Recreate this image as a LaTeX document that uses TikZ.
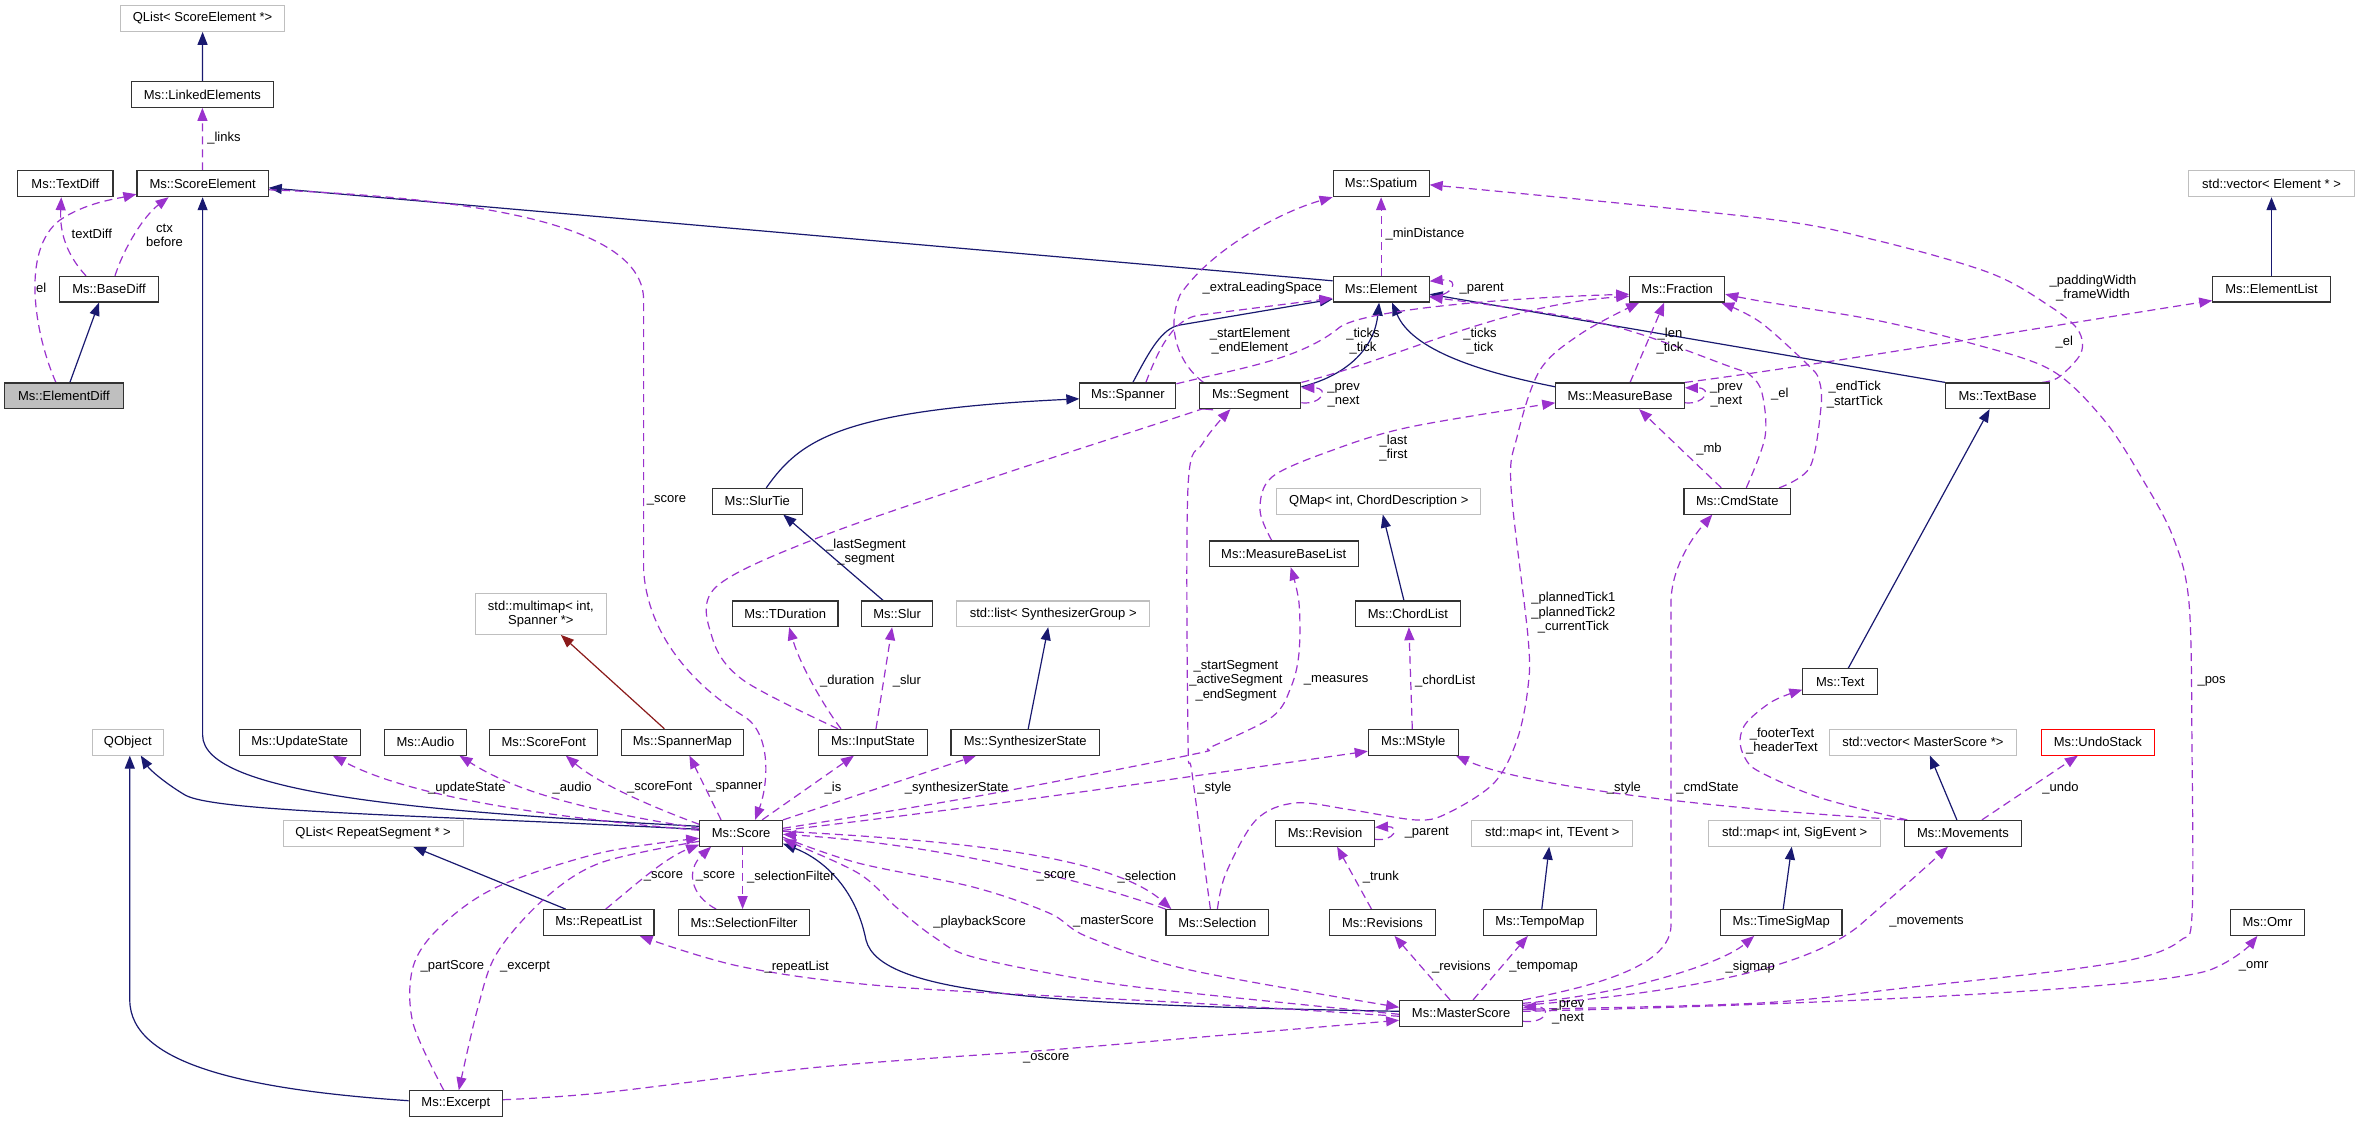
\documentclass[tikz,border=0pt]{standalone}
\usepackage{fontspec}
\setmainfont{Liberation Sans}
\usetikzlibrary{arrows.meta,backgrounds}
\newcommand\dxfont{\fontsize{13}{14.5}\selectfont}
\definecolor{nv}{HTML}{191970}
\definecolor{pu}{HTML}{9A32CD}
\definecolor{fb}{HTML}{8B1A1A}
\definecolor{gr}{HTML}{BFBFBF}
\definecolor{bdc}{HTML}{333333}
\definecolor{edfill}{HTML}{BFBFBF}
\tikzset{
  clsbox/.style={draw=bdc, line width=1.1pt, minimum height=25.7pt, inner sep=0pt, font=\dxfont, fill=white},
  extbox/.style={clsbox, draw=gr},
  inhline/.style={draw=nv, line width=1.2pt, -{Triangle[length=13pt,width=10pt]}},
  tplline/.style={draw=fb, line width=1.2pt, -{Triangle[length=13pt,width=10pt]}},
  depline/.style={draw=pu, line width=1.2pt, dash pattern=on 8pt off 5pt, -{Triangle[length=13pt,width=10pt]}},
  elabel/.style={font=\dxfont, inner sep=0pt, align=center}
}
\begin{document}
\begin{tikzpicture}[x=1pt,y=-1pt]
\useasboundingbox (0,0) rectangle (2359,1123);
% nodes
\node[extbox, minimum width=164.2] (qlse) at (202.6,18.5) {QList< ScoreElement *>};
\node[clsbox, minimum width=141.6] (le) at (202.4,94.5) {Ms::LinkedElements};
\node[clsbox, minimum width=95.3] (td) at (65.3,183.8) {Ms::TextDiff};
\node[clsbox, minimum width=131.3] (se) at (202.6,183.8) {Ms::ScoreElement};
\node[clsbox, minimum width=96] (spat) at (1381.1,183.8) {Ms::Spatium};
\node[extbox, minimum width=165.7] (vel) at (2271.5,183.8) {std::vector< Element * >};
\node[clsbox, minimum width=98.7] (bd) at (109,289.2) {Ms::BaseDiff};
\node[clsbox, minimum width=96] (elem) at (1381.1,289.2) {Ms::Element};
\node[clsbox, minimum width=94.9] (frac) at (1677.2,289.2) {Ms::Fraction};
\node[clsbox, minimum width=117.5] (elist) at (2271.5,289.2) {Ms::ElementList};
\node[clsbox, fill=edfill, minimum width=118.6] (ed) at (63.9,395.8) {Ms::ElementDiff};
\node[clsbox, minimum width=96] (span) at (1127.9,395.8) {Ms::Spanner};
\node[clsbox, minimum width=101] (seg) at (1250.4,395.8) {Ms::Segment};
\node[clsbox, minimum width=128.6] (mb) at (1620.1,395.8) {Ms::MeasureBase};
\node[clsbox, minimum width=104.1] (tb) at (1997.6,395.8) {Ms::TextBase};
\node[clsbox, minimum width=89.5] (st) at (757.3,501.2) {Ms::SlurTie};
\node[extbox, minimum width=204] (qm) at (1378.8,501.2) {QMap< int, ChordDescription >};
\node[clsbox, minimum width=106.6] (cmd) at (1737.3,501.2) {Ms::CmdState};
\node[clsbox, minimum width=149.2] (mbl) at (1283.7,553.8) {Ms::MeasureBaseList};
\node[extbox, minimum width=131, minimum height=40.7, align=center] (mm) at (540.9,614) {std::multimap< int,\\Spanner *>};
\node[clsbox, minimum width=105.6] (tdu) at (785.2,613.8) {Ms::TDuration};
\node[clsbox, minimum width=70.8] (slur) at (897.1,613.8) {Ms::Slur};
\node[extbox, minimum width=193.3] (lsg) at (1053.2,613.8) {std::list< SynthesizerGroup >};
\node[clsbox, minimum width=104.5] (cl) at (1407.9,613.8) {Ms::ChordList};
\node[clsbox, minimum width=74.6] (txt) at (1840.2,681.7) {Ms::Text};
\node[extbox, minimum width=71.2] (qo) at (127.8,742.2) {QObject};
\node[clsbox, minimum width=121.3] (ups) at (299.8,742.2) {Ms::UpdateState};
\node[clsbox, minimum width=81.5] (aud) at (425.4,742.2) {Ms::Audio};
\node[clsbox, minimum width=107.9] (sfont) at (543.8,742.2) {Ms::ScoreFont};
\node[clsbox, minimum width=121.3] (spm) at (682.4,742.2) {Ms::SpannerMap};
\node[clsbox, minimum width=108.3] (ins) at (873,742.2) {Ms::InputState};
\node[clsbox, minimum width=148.5] (ss) at (1025.2,742.2) {Ms::SynthesizerState};
\node[clsbox, minimum width=90] (mst) at (1413.3,742.2) {Ms::MStyle};
\node[extbox, minimum width=187.1] (vms) at (1922.9,742.2) {std::vector< MasterScore *>};
\node[clsbox, draw=red, minimum width=113.3] (us) at (2097.9,742.2) {Ms::UndoStack};
\node[extbox, minimum width=179.9] (qlr) at (373.1,833.3) {QList< RepeatSegment * >};
\node[clsbox, minimum width=82.7] (score) at (741.1,833.3) {Ms::Score};
\node[clsbox, minimum width=98.7] (rev) at (1325.1,833.3) {Ms::Revision};
\node[extbox, minimum width=161.1] (mte) at (1552.2,833.3) {std::map< int, TEvent >};
\node[extbox, minimum width=172.4] (mse) at (1794.7,833.3) {std::map< int, SigEvent >};
\node[clsbox, minimum width=116.3] (mov) at (1962.9,833.3) {Ms::Movements};
\node[clsbox, minimum width=110.5] (rl) at (598.7,922.5) {Ms::RepeatList};
\node[clsbox, minimum width=130.5] (sf) at (744.1,922.5) {Ms::SelectionFilter};
\node[clsbox, minimum width=102.8] (sel) at (1217.4,922.5) {Ms::Selection};
\node[clsbox, minimum width=106.4] (revs) at (1382.5,922.5) {Ms::Revisions};
\node[clsbox, minimum width=113.3] (tm) at (1539.8,922.5) {Ms::TempoMap};
\node[clsbox, minimum width=121.5] (tsm) at (1781.2,922.5) {Ms::TimeSigMap};
\node[clsbox, minimum width=73.5] (omr) at (2267.4,922.5) {Ms::Omr};
\node[clsbox, minimum width=122.8] (ms) at (1461.1,1013.3) {Ms::MasterScore};
\node[clsbox, minimum width=93.4] (exc) at (455.8,1103.7) {Ms::Excerpt};

\begin{pgfonlayer}{background}
\fill[white] (0,0) rectangle (2359,1123);
% inheritance
\draw[inhline] (le.north) -- (qlse.south);
\draw[inhline] (elist.north) -- (vel.south);
\draw[inhline] ([xshift=6]ed.north) -- ([xshift=-10]bd.south);
\draw[inhline] ([yshift=-5]elem.north west) -- ([yshift=-4]se.east);
\draw[inhline] ([yshift=7]score.west) .. controls (430,812) and (202.6,795) .. (202.6,735) -- (se.south);
\draw[inhline] ([yshift=4]score.west) .. controls (420,815) and (215,812) .. (185,795) .. controls (165,783) and (150,770) .. ([xshift=13]qo.south);
\draw[inhline] ([yshift=3]exc.west) .. controls (250,1090) and (129.8,1065) .. (129.8,1000) -- ([xshift=2]qo.south);
\draw[inhline] ([xshift=5]span.north) .. controls (1150,350) and (1162,328) .. (1180,325) -- ([yshift=-10]elem.west);
\draw[inhline] ([yshift=9]seg.east) .. controls (1345,376) and (1374,350) .. ([xshift=-2]elem.south);
\draw[inhline] ([yshift=9]mb.west) .. controls (1480,372) and (1412,350) .. ([xshift=11]elem.south);
\draw[inhline] (tb.north west) -- ([yshift=-5]elem.east);
\draw[inhline] ([xshift=9]st.north) .. controls (800,440) and (840,410) .. ([yshift=-3]span.west);
\draw[inhline] ([xshift=-14]slur.north) -- ([xshift=26]st.south);
\draw[tplline] ([xshift=-18]spm.north) -- ([xshift=20]mm.south);
\draw[inhline] ([xshift=3]ss.north) -- ([xshift=-5]lsg.south);
\draw[inhline] ([xshift=-4]cl.north) -- ([xshift=4]qm.south);
\draw[inhline] ([xshift=8]txt.north) -- ([xshift=-8]tb.south);
\draw[inhline] ([xshift=-6]mov.north) -- ([xshift=7]vms.south);
\draw[inhline] ([xshift=2]tsm.north) -- ([xshift=-3]mse.south);
\draw[inhline] ([xshift=2]tm.north) -- ([xshift=-3]mte.south);
\draw[inhline] ([xshift=-33]rl.north) -- ([xshift=40]qlr.south);
\draw[inhline] ([yshift=2]ms.west) .. controls (1050,1005) and (880,995) .. (866,940) .. controls (855,885) and (820,858) .. ([yshift=3]score.south east);
% dependencies
\draw[depline] (se.north) -- (le.south);
\draw[depline] ([xshift=-23]bd.north) .. controls (62,250) and (60,225) .. ([xshift=-4]td.south);
\draw[depline] ([xshift=6]bd.north) .. controls (125,245) and (145,215) .. ([xshift=-34]se.south);
\draw[depline] ([xshift=-8]ed.north) .. controls (35,335) and (20,250) .. (60,220) .. controls (85,203) and (115,199) .. ([yshift=3]se.south west);
\draw[depline] ([yshift=-6]se.east) .. controls (480,198) and (643.6,225) .. (643.6,300) -- (643.6,570) .. controls (648,640) and (700,690) .. (745,717) .. controls (772,735) and (768,785) .. ([xshift=14]score.north);
\draw[depline] ([xshift=-47]seg.north) .. controls (1180,365) and (1165,330) .. (1180,295) .. controls (1210,250) and (1280,212) .. (spat.south west);
\draw[depline] (elem.north) -- (spat.south);
\draw[depline] ([yshift=-7]elem.east) .. controls (1452,298) and (1462,278) .. ([yshift=8]elem.east);
\draw[depline] ([xshift=18]span.north) .. controls (1160,345) and (1175,318) .. (1200,315) -- ([yshift=-9]elem.west);
\draw[depline] ([yshift=12]span.east) .. controls (1240,368) and (1300,360) .. (1340,327) .. controls (1365,310) and (1500,298) .. ([yshift=-5]frac.west);
\draw[depline] (seg.north east) .. controls (1400,358) and (1500,305) .. ([yshift=-7]frac.west);
\draw[depline] ([xshift=10]mb.north) -- ([xshift=-13]frac.south);
\draw[depline] plot[smooth,tension=0.55] coordinates {(sel.north) (1226,873) (1256,820) (1295,803) (1352,810) (1417,820) (1448,813) (1494,783) (1517,740) (1528,687) (1528,637) (1511,487) (1517,437) (1540,370) (1582,333) ([xshift=-38]frac.south)};
\draw[depline] plot[smooth,tension=0.55] coordinates {([xshift=-12]cmd.north east) (1810,467) (1821,407) (1819,380) (1808,365) (1760,322) ([xshift=-4]frac.south east)};
\draw[depline] plot[smooth,tension=0.55] coordinates {([yshift=4]ms.east) (1760,1003) (1913,987) (2066,970) (2143,957) (2181,940) (2192,915) (2192,750) (2189,603) (2173,537) (2143,480) (2104,420) (2051,370) (1970,343) (1875,320) (1760,301) ([yshift=-5]frac.east)};
\draw[depline] plot[smooth,tension=0.55] coordinates {([xshift=-8]tb.north east) (2059,377) (2081,353) (2078,330) (2051,307) (1990,273) (1875,240) (1760,218) ([yshift=-1]spat.east)};
\draw[depline] (mb.north east) .. controls (1800,368) and (2100,318) .. ([yshift=2]elist.south west);
\draw[depline] plot[smooth,tension=0.55] coordinates {([xshift=9]cmd.north) (1765,437) (1762,393) (1750,375) (1731,367) (1601,323) ([yshift=-8]elem.east)};
\draw[depline] ([yshift=-7]seg.east) .. controls (1322,405) and (1330,388) .. ([yshift=8]seg.east);
\draw[depline] ([yshift=-7]mb.east) .. controls (1705,405) and (1713,388) .. ([yshift=8]mb.east);
\draw[depline] ([xshift=-16]cmd.north) -- ([xshift=19]mb.south);
\draw[depline] plot[smooth,tension=0.55] coordinates {([xshift=-12]mbl.north) (1260,510) (1272,477) (1333,450) (1410,427) ([yshift=-7]mb.west)};
\draw[depline] plot[smooth,tension=0.55] coordinates {([yshift=5]score.east) (973,797) (1190,755) (1211,747) (1272,717) (1291,687) (1299,653) (1299,603) ([xshift=7]mbl.south)};
\draw[depline] ([yshift=3]score.east) .. controls (1000,805) and (1200,775) .. ([yshift=-9]mst.west);
\draw[depline] ([xshift=1]mov.north west) .. controls (1700,808) and (1520,785) .. ([xshift=-3]mst.south east);
\draw[depline] plot[smooth,tension=0.55] coordinates {([xshift=3]mov.north west) (1821,798) (1760,772) (1745,758) (1740,740) (1747,722) (1773,701) ([yshift=-8]txt.west)};
\draw[depline] ([xshift=19]mov.north) -- ([xshift=-20]us.south);
\draw[depline] ([yshift=8]ms.east) .. controls (1650,995) and (1800,975) .. (1860,925) .. controls (1900,890) and (1925,868) .. ([xshift=-15]mov.south);
\draw[depline] ([yshift=10]ms.east) .. controls (1620,995) and (1720,965) .. ([xshift=-27]tsm.south);
\draw[depline] (ms.north east) .. controls (1600,985) and (1671,965) .. (1671,925) -- (1671,603) .. controls (1671,570) and (1690,540) .. ([xshift=-25]cmd.south);
\draw[depline] ([yshift=2]ms.east) .. controls (1800,1005) and (2150,990) .. (2210,970) .. controls (2235,960) and (2250,945) .. ([xshift=-10]omr.south);
\draw[depline] ([yshift=-8]ms.east) .. controls (1548,1024) and (1552,1006) .. ([yshift=6]ms.east);
\draw[depline] ([xshift=12]ms.north) -- ([xshift=-12]tm.south);
\draw[depline] ([xshift=-11]ms.north) -- ([xshift=12]revs.south);
\draw[depline] ([yshift=-6]rev.east) .. controls (1395,842) and (1400,826) .. ([yshift=6]rev.east);
\draw[depline] ([xshift=-11]revs.north) -- ([xshift=12]rev.south);
\draw[depline] ([yshift=2]score.east) .. controls (950,840) and (1110,855) .. ([xshift=-46]sel.north);
\draw[depline] (sel.north west) .. controls (1100,885) and (950,845) .. ([yshift=-1]score.east);
\draw[depline] plot[smooth,tension=0.55] coordinates {([yshift=-4]score.east) (858,863) (973,887) (1049,913) (1088,937) (1190,970) ([yshift=6]ms.west)};
\draw[depline] plot[smooth,tension=0.55] coordinates {([yshift=-1]ms.west) (1190,993) (1088,980) (973,957) (934,937) (896,907) (858,873) ([yshift=-6]score.east)};
\draw[depline] plot[smooth,tension=0.55] coordinates {([yshift=-3]ms.west) (1190,1003) (896,987) (743,967) ([xshift=41]rl.south)};
\draw[depline] ([xshift=7]rl.north) .. controls (635,885) and (665,858) .. ([yshift=2]score.south west);
\draw[depline] ([xshift=-28]sf.north) .. controls (690,895) and (686,870) .. ([xshift=-30]score.south);
\draw[depline] ([xshift=1.5]score.south) -- ([xshift=-1.5]sf.north);
\draw[depline] ([yshift=3]score.west) .. controls (520,815) and (400,792) .. ([xshift=33]ups.south);
\draw[depline] ([yshift=5]score.west) .. controls (570,808) and (510,788) .. ([xshift=34]aud.south);
\draw[depline] ([yshift=9]score.west) .. controls (660,810) and (600,785) .. ([xshift=22]sfont.south);
\draw[depline] ([xshift=-20]score.north) -- ([xshift=7]spm.south);
\draw[depline] ([xshift=21]score.north) -- ([xshift=-19]ins.south);
\draw[depline] (score.north east) -- ([xshift=-49]ss.south);
\draw[depline] ([xshift=-32]ins.north) .. controls (825,708) and (800,665) .. ([xshift=4]tdu.south);
\draw[depline] ([xshift=3]ins.north) -- ([xshift=-5]slur.south);
\draw[depline] ([xshift=-1]mst.north) -- ([xshift=1]cl.south);
\draw[depline] plot[smooth,tension=0.55] coordinates {([xshift=-35]ins.north) (743,680) (712,637) (716,587) (820,537) (1000,475) (1190,413) (seg.south west)};
\draw[depline] plot[smooth,tension=0.55] coordinates {([xshift=-7]sel.north) (1192,773) (1188,740) (1188,487) (1203,443) ([xshift=-20]seg.south)};
\draw[depline] plot[smooth,tension=0.55] coordinates {([xshift=-12]exc.north) (413,1023) (413,967) (440,927) (497,887) (600,853) ([yshift=-5]score.west)};
\draw[depline] plot[smooth,tension=0.55] coordinates {([yshift=-8]score.west) (600,863) (543,900) (497,953) (478,1007) ([xshift=3]exc.north)};
\draw[depline] plot[smooth,tension=0.55] coordinates {([yshift=4]exc.east) (600,1093) (820,1067) (1049,1050) (1190,1038) ([yshift=-7]ms.west)};
\end{pgfonlayer}

% labels
\node[elabel] (l1) at (223.9,138.3) {\_links};
\node[elabel] (l2) at (91.8,234.3) {textDiff};
\node[elabel] (l3) at (164.5,235.3) {ctx\\before};
\node[elabel] (l4) at (41.3,288.3) {el};
\node[elabel] (l5) at (1424.9,234.3) {\_minDistance};
\node[elabel] (l6) at (1262.3,288.3) {\_extraLeadingSpace};
\node[elabel] (l7) at (1481.6,288.3) {\_parent};
\node[elabel] (l8) at (1250,341.3) {\_startElement\\\_endElement};
\node[elabel] (l9) at (1363,341.3) {\_ticks\\\_tick};
\node[elabel] (l10) at (1480,341.3) {\_ticks\\\_tick};
\node[elabel] (l11) at (1670,341.3) {\_len\\\_tick};
\node[elabel] (l12) at (2093,288) {\_paddingWidth\\\_frameWidth};
\node[elabel] (l13) at (2064.2,341.7) {\_el};
\node[elabel] (l14) at (1343.6,395.2) {\_prev\\\_next};
\node[elabel] (l15) at (1726.4,395.2) {\_prev\\\_next};
\node[elabel] (l16) at (1779.9,394.3) {\_el};
\node[elabel] (l17) at (1854.8,394.8) {\_endTick\\\_startTick};
\node[elabel] (l18) at (1393.4,448) {\_last\\\_first};
\node[elabel] (l19) at (1708.9,449) {\_mb};
\node[elabel] (l20) at (666.5,500.7) {\_score};
\node[elabel] (l21) at (866,552) {\_lastSegment\\\_segment};
\node[elabel] (l22) at (1573.4,613) {\_plannedTick1\\\_plannedTick2\\\_currentTick};
\node[elabel] (l23) at (1236,680.8) {\_startSegment\\\_activeSegment\\\_endSegment};
\node[elabel] (l24) at (1336.1,680.7) {\_measures};
\node[elabel] (l25) at (1445.2,680.7) {\_chordList};
\node[elabel] (l26) at (847.2,680.7) {\_duration};
\node[elabel] (l27) at (906.9,680.7) {\_slur};
\node[elabel] (l28) at (2211.6,681) {\_pos};
\node[elabel] (l29) at (1782,741) {\_footerText\\\_headerText};
\node[elabel] (l30) at (466.9,787.7) {\_updateState};
\node[elabel] (l31) at (572.1,787.7) {\_audio};
\node[elabel] (l32) at (659.7,787.7) {\_scoreFont};
\node[elabel] (l33) at (735.4,787.7) {\_spanner};
\node[elabel] (l34) at (833,787.7) {\_is};
\node[elabel] (l35) at (956.6,787.7) {\_synthesizerState};
\node[elabel] (l36) at (1214.4,787.7) {\_style};
\node[elabel] (l37) at (1623.9,787.7) {\_style};
\node[elabel] (l38) at (1707.4,787.7) {\_cmdState};
\node[elabel] (l39) at (2060.4,787.7) {\_undo};
\node[elabel] (l40) at (1426.8,832.7) {\_parent};
\node[elabel] (l41) at (663.5,876.7) {\_score};
\node[elabel] (l42) at (715.5,876.7) {\_score};
\node[elabel] (l43) at (790.9,876.7) {\_selectionFilter};
\node[elabel] (l44) at (1056.1,876.7) {\_score};
\node[elabel] (l45) at (1146.8,876.7) {\_selection};
\node[elabel] (l46) at (1380.9,876.7) {\_trunk};
\node[elabel] (l47) at (979.6,921.7) {\_playbackScore};
\node[elabel] (l48) at (1113.5,921.7) {\_masterScore};
\node[elabel] (l49) at (1926.5,921.7) {\_movements};
\node[elabel] (l50) at (452.4,966.7) {\_partScore};
\node[elabel] (l51) at (525.1,966.7) {\_excerpt};
\node[elabel] (l52) at (796.7,966.7) {\_repeatList};
\node[elabel] (l53) at (1461.3,966.7) {\_revisions};
\node[elabel] (l54) at (1543.6,966.7) {\_tempomap};
\node[elabel] (l55) at (1750.2,966.7) {\_sigmap};
\node[elabel] (l56) at (2253.7,966.7) {\_omr};
\node[elabel] (l57) at (1568,1012.5) {\_prev\\\_next};
\node[elabel] (l58) at (1046.2,1058.3) {\_oscore};
\end{tikzpicture}
\end{document}
